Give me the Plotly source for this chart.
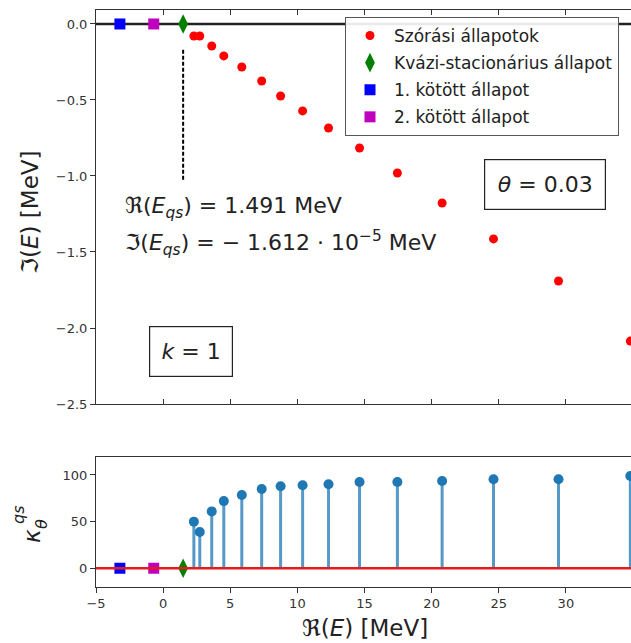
import plotly.graph_objects as go

# ---- data ----
re_scat = [2.29, 2.73, 3.62, 4.52, 5.86, 7.34, 8.75, 10.39, 12.32, 14.63, 17.45, 20.78, 24.61, 29.45, 34.8]
im_scat = [-0.079, -0.079, -0.145, -0.21, -0.283, -0.375, -0.474, -0.572, -0.684, -0.816, -0.980, -1.178, -1.414, -1.691, -2.086]
kappa_scat = [50, 39, 61, 72, 78.5, 85, 88, 89, 90, 92.5, 92.5, 93.5, 95.5, 95.5, 99]
re_qs = 1.491
im_qs = -1.612e-5
kappa_qs = 0
re_b1 = -3.22
re_b2 = -0.70
kappa_bound = 0
dash_y = [-0.17, -1.03]

FONT = "DejaVu Sans"
W, H = 631, 643
L = 96

def px(x):
    return (x - L) / (W - L)

def py(y):
    return 1 - y / H

fig = go.Figure()

# ---- top panel ----
fig.add_trace(go.Scatter(x=re_scat, y=im_scat, mode="markers", name="Szórási állapotok", legendgroup="a",
                         marker=dict(color="red", size=9, line=dict(width=0)), xaxis="x", yaxis="y"))
fig.add_trace(go.Scatter(x=[re_qs], y=[im_qs], mode="markers", name="Kvázi-stacionárius állapot", legendgroup="b",
                         marker=dict(color="green", symbol="diamond-tall", size=14, line=dict(width=0)),
                         xaxis="x", yaxis="y"))
fig.add_trace(go.Scatter(x=[re_b1], y=[0], mode="markers", name="1. kötött állapot", legendgroup="c",
                         marker=dict(color="blue", symbol="square", size=11, line=dict(width=0)),
                         xaxis="x", yaxis="y"))
fig.add_trace(go.Scatter(x=[re_b2], y=[0], mode="markers", name="2. kötött állapot", legendgroup="d",
                         marker=dict(color="#bf00bf", symbol="square", size=11, line=dict(width=0)),
                         xaxis="x", yaxis="y"))
fig.add_trace(go.Scatter(x=[re_qs, re_qs], y=dash_y, mode="lines", showlegend=False,
                         line=dict(color="black", width=2, dash="4px,2px"), xaxis="x", yaxis="y"))

# ---- bottom panel ----
sx, sy = [], []
for xv, kv in zip(re_scat, kappa_scat):
    sx += [xv, xv, None]
    sy += [0, kv, None]
fig.add_trace(go.Scatter(x=sx, y=sy, mode="lines", showlegend=False,
                         line=dict(color="#1f77b4", width=3), opacity=0.75, xaxis="x2", yaxis="y2"))
fig.add_trace(go.Scatter(x=re_scat, y=kappa_scat, mode="markers", showlegend=False,
                         marker=dict(color="#1f77b4", size=10, line=dict(width=0)), xaxis="x2", yaxis="y2"))
fig.add_trace(go.Scatter(x=[re_b1], y=[kappa_bound], mode="markers", showlegend=False,
                         marker=dict(color="blue", symbol="square", size=11, line=dict(width=0)),
                         xaxis="x2", yaxis="y2"))
fig.add_trace(go.Scatter(x=[re_b2], y=[kappa_bound], mode="markers", showlegend=False,
                         marker=dict(color="#bf00bf", symbol="square", size=11, line=dict(width=0)),
                         xaxis="x2", yaxis="y2"))
fig.add_trace(go.Scatter(x=[re_qs], y=[kappa_qs], mode="markers", showlegend=False,
                         marker=dict(color="green", symbol="diamond-tall", size=14, line=dict(width=0)),
                         xaxis="x2", yaxis="y2"))

# horizontal reference lines
fig.add_shape(type="line", xref="x domain", yref="y", x0=0, x1=1, y0=0, y1=0,
              line=dict(color="#222", width=2.5), layer="below")
fig.add_shape(type="line", xref="x2 domain", yref="y2", x0=0, x1=1, y0=0, y1=0,
              line=dict(color="#e41a1c", width=2.5), layer="above")

axis_common = dict(showgrid=False, zeroline=False, showline=True, linecolor="#333", linewidth=1,
                   tickcolor="#333", tickfont=dict(family=FONT, size=13, color="#333"), automargin=False)

x_range = [-5, 34.85]
fig.update_layout(
    template="none",
    width=W, height=H,
    margin=dict(l=L, r=0, t=0, b=0),
    paper_bgcolor="white", plot_bgcolor="white",
    font=dict(family=FONT, color="#222"),
    xaxis=dict(domain=[0, 1], range=x_range, anchor="y", showticklabels=False, ticks="inside",
               ticklen=5, dtick=5, tick0=0, mirror="ticks", **axis_common),
    yaxis=dict(domain=[py(404), py(10)], range=[-2.5, 0.092], anchor="x", ticks="outside",
               ticklen=5, dtick=0.5, tick0=0, tickformat=".1f", **axis_common),
    xaxis2=dict(domain=[0, 1], range=x_range, anchor="y2", matches="x", ticks="outside",
                ticklen=5, dtick=5, tick0=0, mirror=True, **axis_common),
    yaxis2=dict(domain=[py(586.7), py(456.7)], range=[-19.7, 119.6], anchor="x2", ticks="outside",
                ticklen=5, tickvals=[0, 50, 100], **axis_common),
    showlegend=True,
    legend=dict(x=px(345), y=py(17), xanchor="left", yanchor="top",
                font=dict(family=FONT, size=17, color="#222"),
                bgcolor="rgba(255,255,255,0.9)", bordercolor="#555", borderwidth=1,
                tracegroupgap=2, traceorder="grouped", itemwidth=38),
)

ann = []
ann.append(dict(x=px(123), y=py(207), xref="paper", yref="paper", xanchor="left", yanchor="middle",
                showarrow=False, font=dict(family=FONT, size=22, color="#222"),
                text="ℜ(<i>E</i><sub><i>qs</i></sub>) = 1.491 MeV"))
ann.append(dict(x=px(123), y=py(243), xref="paper", yref="paper", xanchor="left", yanchor="middle",
                showarrow=False, font=dict(family=FONT, size=22, color="#222"),
                text="ℑ(<i>E</i><sub><i>qs</i></sub>) = − 1.612 · 10<sup>−5</sup> MeV"))
ann.append(dict(x=px(545), y=py(184.5), xref="paper", yref="paper", xanchor="center", yanchor="middle",
                showarrow=False, font=dict(family=FONT, size=22, color="#222"),
                text="<i>θ</i> = 0.03", width=114, height=43, borderpad=3,
                bordercolor="#222", borderwidth=1.2, bgcolor="white"))
ann.append(dict(x=px(191), y=py(351.5), xref="paper", yref="paper", xanchor="center", yanchor="middle",
                showarrow=False, font=dict(family=FONT, size=22, color="#222"),
                text="<i>k</i> = 1", width=76, height=43, borderpad=3,
                bordercolor="#222", borderwidth=1.2, bgcolor="white"))
# axis titles
ann.append(dict(x=px(365), y=py(628), xref="paper", yref="paper", xanchor="center", yanchor="middle",
                showarrow=False, font=dict(family=FONT, size=23, color="#222"),
                text="ℜ(<i>E</i>) [MeV]"))
ann.append(dict(x=px(30), y=py(212), xref="paper", yref="paper", xanchor="center", yanchor="middle",
                showarrow=False, textangle=-90, font=dict(family=FONT, size=23, color="#222"),
                text="ℑ(<i>E</i>) [MeV]"))
ann.append(dict(x=px(32), y=py(536), xref="paper", yref="paper", xanchor="center", yanchor="middle",
                showarrow=False, textangle=-90, font=dict(family=FONT, size=23, color="#222"),
                text="<i>κ</i>"))
ann.append(dict(x=px(18), y=py(515), xref="paper", yref="paper", xanchor="center", yanchor="middle",
                showarrow=False, textangle=-90, font=dict(family=FONT, size=16, color="#222"),
                text="<i>qs</i>"))
ann.append(dict(x=px(41), y=py(524), xref="paper", yref="paper", xanchor="center", yanchor="middle",
                showarrow=False, textangle=-90, font=dict(family=FONT, size=16, color="#222"),
                text="<i>θ</i>"))
fig.update_layout(annotations=ann)

fig.write_html("out.html", config={"displayModeBar": False},
               post_script="document.body.style.margin='0';document.body.style.overflow='hidden';")
